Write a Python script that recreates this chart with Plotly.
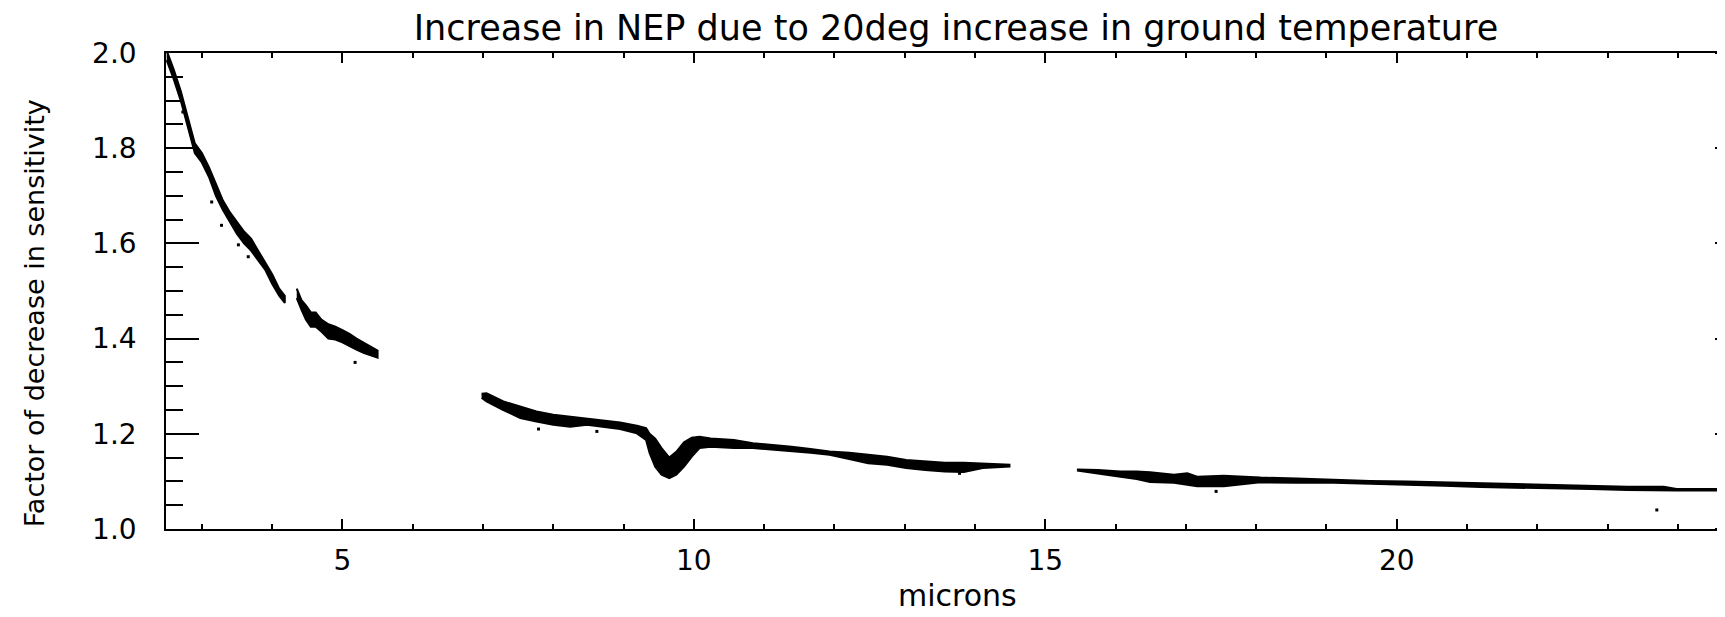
import plotly.graph_objects as go

# ---- data (microns, factor) ----
# segment 1a
s1a_x = [2.50, 2.60, 2.70, 2.80, 2.90, 3.00, 3.10, 3.20, 3.30, 3.40, 3.50, 3.60, 3.70, 3.80, 3.90, 4.00, 4.10, 4.18]
s1a_hi = [2.005, 1.965, 1.920, 1.865, 1.810, 1.790, 1.760, 1.725, 1.690, 1.665, 1.645, 1.625, 1.610, 1.585, 1.560, 1.535, 1.505, 1.490]
s1a_lo = [1.985, 1.945, 1.900, 1.845, 1.790, 1.770, 1.740, 1.700, 1.670, 1.645, 1.620, 1.600, 1.585, 1.565, 1.545, 1.515, 1.490, 1.475]
# segment 1b
s1b_x = [4.35, 4.42, 4.48, 4.55, 4.62, 4.70, 4.80, 4.90, 5.00, 5.10, 5.20, 5.30, 5.40, 5.50]
s1b_hi = [1.505, 1.480, 1.470, 1.455, 1.455, 1.440, 1.430, 1.425, 1.418, 1.410, 1.400, 1.392, 1.383, 1.375]
s1b_lo = [1.485, 1.460, 1.440, 1.425, 1.425, 1.415, 1.400, 1.398, 1.392, 1.385, 1.377, 1.370, 1.365, 1.360]
# segment 2
s2_x = [6.98, 7.05, 7.29, 7.53, 7.76, 8.00, 8.24, 8.48, 8.71, 8.95, 9.19, 9.32, 9.37, 9.45, 9.54, 9.65, 9.75,
        9.86, 9.97, 10.08, 10.24, 10.57, 10.84, 11.11, 11.39, 11.66, 11.93, 12.21, 12.48, 12.75, 13.02, 13.29,
        13.57, 13.84, 14.11, 14.49]
s2_hi = [1.284, 1.285, 1.268, 1.257, 1.247, 1.240, 1.236, 1.233, 1.229, 1.224, 1.217, 1.212, 1.200, 1.190, 1.170,
         1.150, 1.162, 1.182, 1.192, 1.194, 1.190, 1.187, 1.180, 1.177, 1.173, 1.168, 1.163, 1.160, 1.156, 1.152,
         1.145, 1.142, 1.139, 1.139, 1.137, 1.135]
s2_lo = [1.276, 1.268, 1.250, 1.233, 1.226, 1.219, 1.215, 1.219, 1.215, 1.210, 1.201, 1.187, 1.160, 1.131, 1.114,
         1.107, 1.114, 1.131, 1.152, 1.170, 1.173, 1.170, 1.170, 1.166, 1.163, 1.160, 1.156, 1.147, 1.138, 1.135,
         1.128, 1.124, 1.121, 1.120, 1.128, 1.131]
# segment 3
s3_x = [15.45, 15.75, 16.07, 16.30, 16.49, 16.83, 17.02, 17.16, 17.54, 18.06, 18.58, 19.10, 19.62, 20.15, 20.67,
        21.19, 21.71, 22.23, 22.76, 23.28, 23.80, 23.98, 24.68]
s3_hi = [1.125, 1.124, 1.121, 1.121, 1.119, 1.114, 1.117, 1.110, 1.112, 1.108, 1.106, 1.103, 1.101, 1.100, 1.098,
         1.097, 1.094, 1.093, 1.091, 1.089, 1.089, 1.084, 1.084]
s3_lo = [1.123, 1.117, 1.110, 1.105, 1.099, 1.097, 1.093, 1.090, 1.090, 1.098, 1.097, 1.097, 1.094, 1.093, 1.091,
         1.088, 1.087, 1.085, 1.084, 1.082, 1.081, 1.081, 1.081]
# isolated points
dots_x = [2.73, 3.14, 3.28, 3.52, 3.66, 5.18, 7.79, 8.62, 13.78, 17.43, 23.70]
dots_y = [1.876, 1.687, 1.638, 1.597, 1.572, 1.350, 1.210, 1.205, 1.117, 1.079, 1.040]

x_ticks = [5, 10, 15, 20]
y_ticks = [1.0, 1.2, 1.4, 1.6, 1.8, 2.0]

FONT = "DejaVu Sans"
# the page body adds an 8 px offset, so the figure is sized to the visible window area
W, H = 1717, 609
PLOT_BOTTOM = 45 + 476  # figure px
fig = go.Figure()

for sx, hi, lo in [(s1a_x, s1a_hi, s1a_lo), (s1b_x, s1b_hi, s1b_lo), (s2_x, s2_hi, s2_lo), (s3_x, s3_hi, s3_lo)]:
    fig.add_trace(go.Scatter(
        x=sx + sx[::-1], y=hi + lo[::-1], mode="lines", fill="toself",
        fillcolor="black", line=dict(color="black", width=2), hoverinfo="skip", showlegend=False))

fig.add_trace(go.Scatter(x=dots_x, y=dots_y, mode="markers", xaxis="x", yaxis="y2",
                         marker=dict(color="black", size=3, symbol="square"), showlegend=False))

fig.update_layout(
    width=W, height=H,
    margin=dict(l=158, r=0, t=45, b=88),
    paper_bgcolor="white", plot_bgcolor="white",
    showlegend=False,
    title=dict(text="Increase in NEP due to 20deg increase in ground temperature",
               x=948 / W, xanchor="center", xref="container",
               y=1 - 7 / H, yanchor="top", yref="container", pad=dict(t=0, b=0, l=0, r=0),
               font=dict(family=FONT, size=35, color="black")),
    xaxis=dict(range=[2.49, 24.67], tickvals=x_ticks, ticktext=[str(v) for v in x_ticks],
               ticks="inside", ticklen=10, tickwidth=1.5, tickcolor="black",
               showline=True, linecolor="black", linewidth=1.5, mirror="ticks",
               showgrid=False, zeroline=False, ticklabelstandoff=6,
               minor=dict(dtick=1, tick0=0, ticks="inside", ticklen=5, tickwidth=1.5, tickcolor="black"),
               tickfont=dict(family=FONT, size=28, color="black")),
    yaxis=dict(range=[1.0, 2.0], tickvals=y_ticks, ticktext=[f"{v:.1f}" for v in y_ticks],
               ticks="inside", ticklen=33, tickwidth=1.5, tickcolor="black",
               showline=True, linecolor="black", linewidth=1.5, mirror=False,
               showgrid=False, zeroline=False, ticklabelstandoff=22,
               minor=dict(dtick=0.05, tick0=0, ticks="inside", ticklen=17, tickwidth=1.5, tickcolor="black"),
               tickfont=dict(family=FONT, size=28, color="black")),
    yaxis2=dict(range=[1.0, 2.0], overlaying="y", side="left", anchor="free", position=1.0,
                tickmode="array", tickvals=y_ticks,
                ticks="outside", ticklen=10, tickwidth=2, tickcolor="black",
                showticklabels=False, showline=False, showgrid=False, zeroline=False),
    annotations=[
        dict(text="microns", xref="paper", yref="paper", x=(957 - 166) / 1559,
             y=(PLOT_BOTTOM - 607) / 476,
             xanchor="center", yanchor="bottom", showarrow=False,
             font=dict(family=FONT, size=30, color="black")),
        dict(text="Factor of decrease in sensitivity", xref="paper", yref="paper",
             x=(34 - 166) / 1559, y=(529.3 - 313.5) / 476, textangle=-90,
             xanchor="center", yanchor="middle", showarrow=False,
             font=dict(family=FONT, size=27, color="black")),
    ],
)

fig.write_html("out.html")
